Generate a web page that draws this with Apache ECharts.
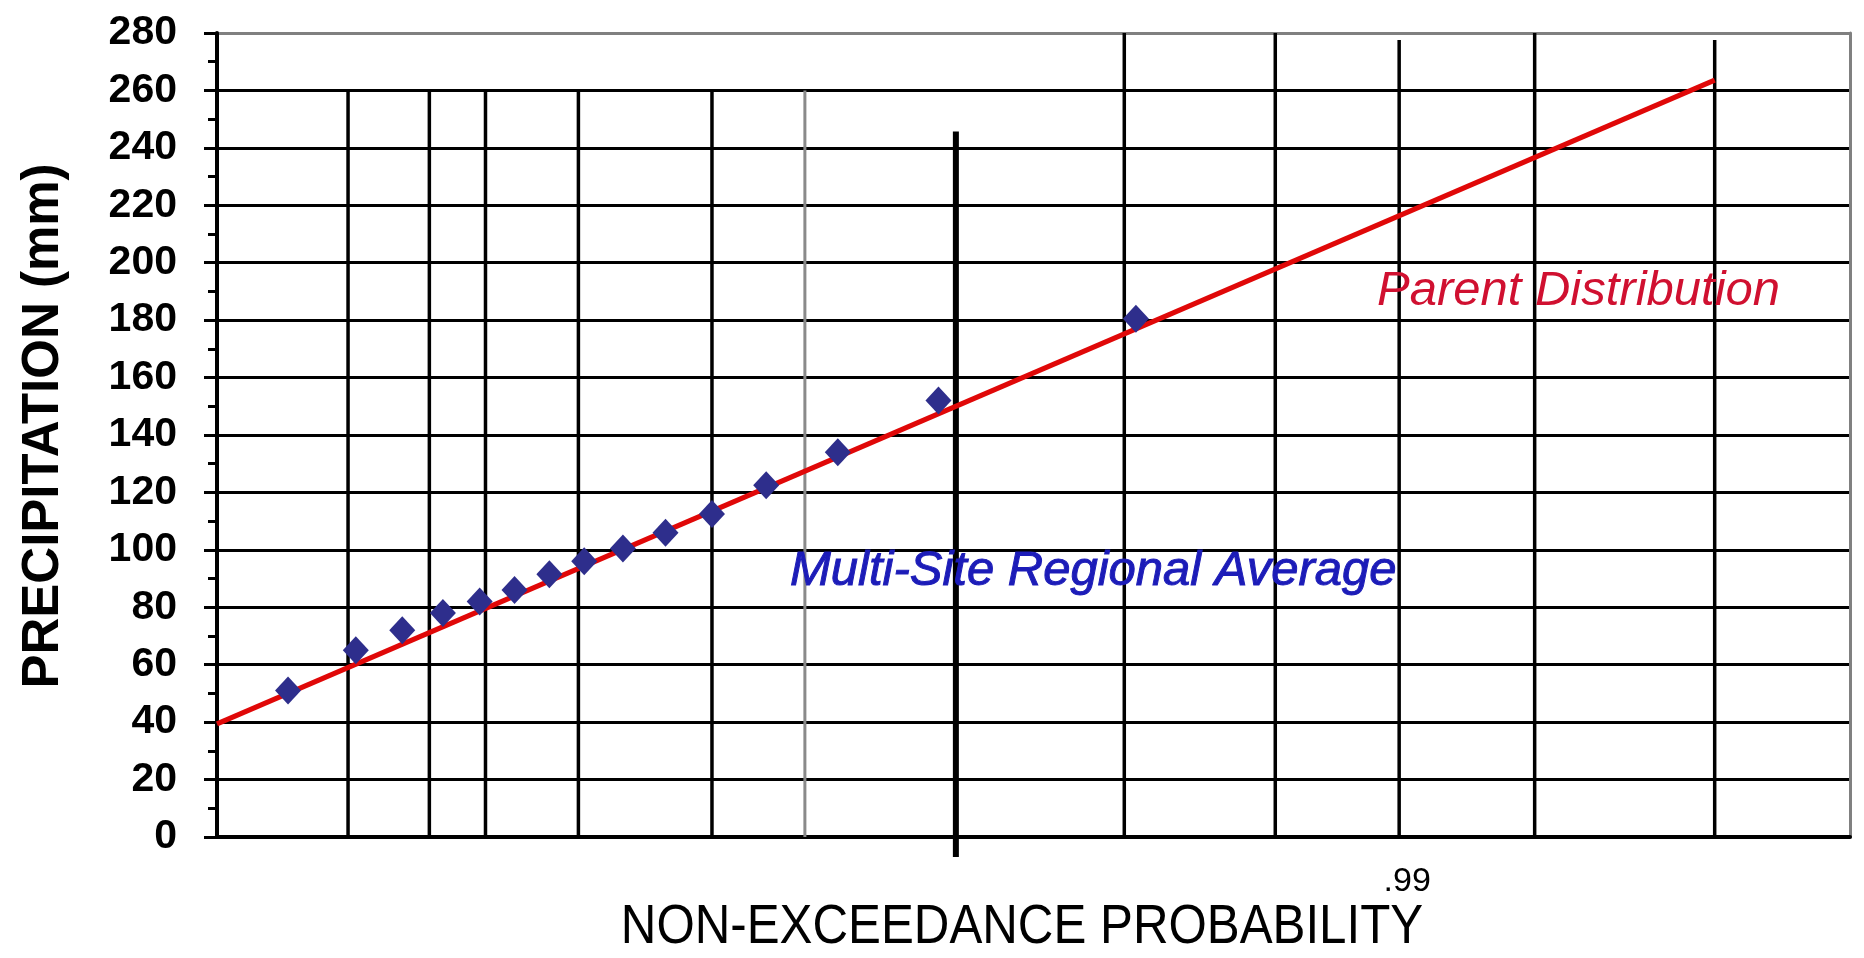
<!DOCTYPE html>
<html>
<head>
<meta charset="utf-8">
<title>Precipitation frequency</title>
<script src="https://cdn.jsdelivr.net/npm/echarts@6/dist/echarts.min.js"></script>
<style>
  html, body { margin: 0; padding: 0; background: #ffffff; }
  #chart { width: 1864px; height: 958px; }
</style>
</head>
<body>
<div id="chart"></div>
<script>
// Gumbel reduced variate of each probability gridline, and its probability label
const probLabels   = ['.10', '.20', '.30', '.50', '.70', '.80', '.90', '.96', '.98', '.99', '.995', '.998'];
const gridVariates = [-0.85, -0.43, -0.14, 0.34, 1.03, 1.51, 2.29, 3.16, 3.94, 4.58, 5.28, 6.21];
const labelledProbs = ['.99'];

// Axis extent in reduced variate (p = .01 to p = .999)
const xMin = -1.527;
const xMax = 6.909;

// Multi-site regional average: plotting position (reduced variate) and precipitation (mm)
const siteVariates = [-1.16, -0.81, -0.57, -0.36, -0.17, 0.01, 0.19, 0.37, 0.57, 0.79, 1.03, 1.31, 1.68, 2.20, 3.22];
const sitePrecip   = [51, 65, 72, 78, 82, 86, 91.5, 96, 100.5, 106, 112.5, 122.5, 134, 152, 180.5];

// Parent distribution: straight line on the Gumbel paper
const parentVariates = [-1.527, 6.21];
const parentPrecip   = [39.4, 263.6];

const chart = echarts.init(document.getElementById('chart'), null, { renderer: 'canvas' });

// horizontal grid: black lines, the top one grey
const hLineColors = [];
for (let v = 0; v <= 280; v += 20) hLineColors.push(v === 280 ? '#808080' : '#000000');

// how far up each probability gridline runs, and special line styles
const gridTop = [260, 260, 260, 260, 260, 260, 245.7, 280, 280, 277.6, 280, 277.6];
const gridStyle = {
  5: { stroke: '#8a8a8a', lineWidth: 3 },
  6: { stroke: '#000000', lineWidth: 6, bottom: -7 }
};

const option = {
  animation: false,
  backgroundColor: '#ffffff',
  grid: { left: 217, right: 14, top: 33, bottom: 121, containLabel: false },
  xAxis: {
    type: 'value',
    min: xMin,
    max: xMax,
    splitLine: { show: false },
    axisTick: { show: false },
    axisLine: { show: true, onZero: false, lineStyle: { color: '#000000', width: 4 } },
    axisLabel: {
      customValues: labelledProbs.map(p => gridVariates[probLabels.indexOf(p)]),
      formatter: v => probLabels[gridVariates.indexOf(v)],
      fontFamily: '"Liberation Sans", Arial, sans-serif',
      fontSize: 34,
      color: '#000000',
      margin: 28,
      padding: [0, 0, 0, 16]
    }
  },
  yAxis: [
    {
      type: 'value',
      min: 0,
      max: 280,
      interval: 20,
      axisLine: { show: true, onZero: false, lineStyle: { color: '#000000', width: 4 } },
      axisTick: { show: true, length: 13, lineStyle: { color: '#000000', width: 3 } },
      minorTick: { show: true, splitNumber: 2, length: 9, lineStyle: { color: '#000000', width: 3 } },
      splitLine: { show: true, lineStyle: { color: hLineColors, width: 3 } },
      axisLabel: {
        fontFamily: '"Liberation Sans", Arial, sans-serif',
        fontWeight: 'bold',
        fontSize: 41,
        color: '#000000',
        margin: 40,
        padding: [0, 0, 10, 0]
      }
    },
    {
      type: 'value',
      position: 'right',
      min: 0,
      max: 280,
      interval: 20,
      axisLine: { show: true, onZero: false, lineStyle: { color: '#808080', width: 3 } },
      axisTick: { show: false },
      axisLabel: { show: false },
      splitLine: { show: false }
    }
  ],
  series: [
    {
      type: 'custom',
      name: 'probability gridlines',
      clip: false,
      silent: true,
      z: 1,
      data: gridVariates.map(v => [v]),
      encode: { x: 0 },
      renderItem: function (params, api) {
        const i = params.dataIndex;
        const st = gridStyle[i] || {};
        const p1 = api.coord([api.value(0), gridTop[i]]);
        const p2 = api.coord([api.value(0), st.bottom !== undefined ? st.bottom : 0]);
        return {
          type: 'line',
          shape: { x1: p1[0], y1: p1[1], x2: p2[0], y2: p2[1] },
          style: { stroke: st.stroke || '#000000', lineWidth: st.lineWidth || 3.5 }
        };
      }
    },
    {
      type: 'line',
      name: 'Parent Distribution',
      data: parentVariates.map((v, i) => [v, parentPrecip[i]]),
      showSymbol: false,
      symbol: 'none',
      lineStyle: { color: '#e00808', width: 5 },
      z: 3
    },
    {
      type: 'scatter',
      name: 'Multi-Site Regional Average',
      data: siteVariates.map((v, i) => [v, sitePrecip[i]]),
      symbol: 'diamond',
      symbolSize: [26, 28],
      itemStyle: { color: '#2e2e8c', opacity: 1 },
      z: 4
    }
  ],
  graphic: [
    {
      type: 'text',
      x: 44, y: 426,
      rotation: Math.PI / 2,
      style: {
        text: 'PRECIPITATION (mm)',
        font: 'bold 51px "Liberation Sans", Arial, sans-serif',
        fill: '#000000',
        align: 'center',
        verticalAlign: 'middle'
      }
    },
    {
      type: 'text',
      x: 1022, y: 928,
      scaleX: 0.88,
      style: {
        text: 'NON-EXCEEDANCE PROBABILITY',
        font: '56px "Liberation Sans", Arial, sans-serif',
        fill: '#000000',
        align: 'center',
        verticalAlign: 'middle'
      }
    },
    {
      type: 'text',
      x: 790, y: 571,
      z: 10,
      style: {
        text: 'Multi-Site Regional Average',
        font: 'italic 49px "Liberation Sans", Arial, sans-serif',
        fill: '#1c1cb8',
        stroke: '#1c1cb8',
        lineWidth: 1,
        align: 'left',
        verticalAlign: 'middle'
      }
    },
    {
      type: 'text',
      x: 1377, y: 291,
      z: 10,
      style: {
        text: 'Parent Distribution',
        font: 'italic 49px "Liberation Sans", Arial, sans-serif',
        fill: '#d01030',
        align: 'left',
        verticalAlign: 'middle'
      }
    }
  ]
};

chart.setOption(option);
</script>
</body>
</html>
